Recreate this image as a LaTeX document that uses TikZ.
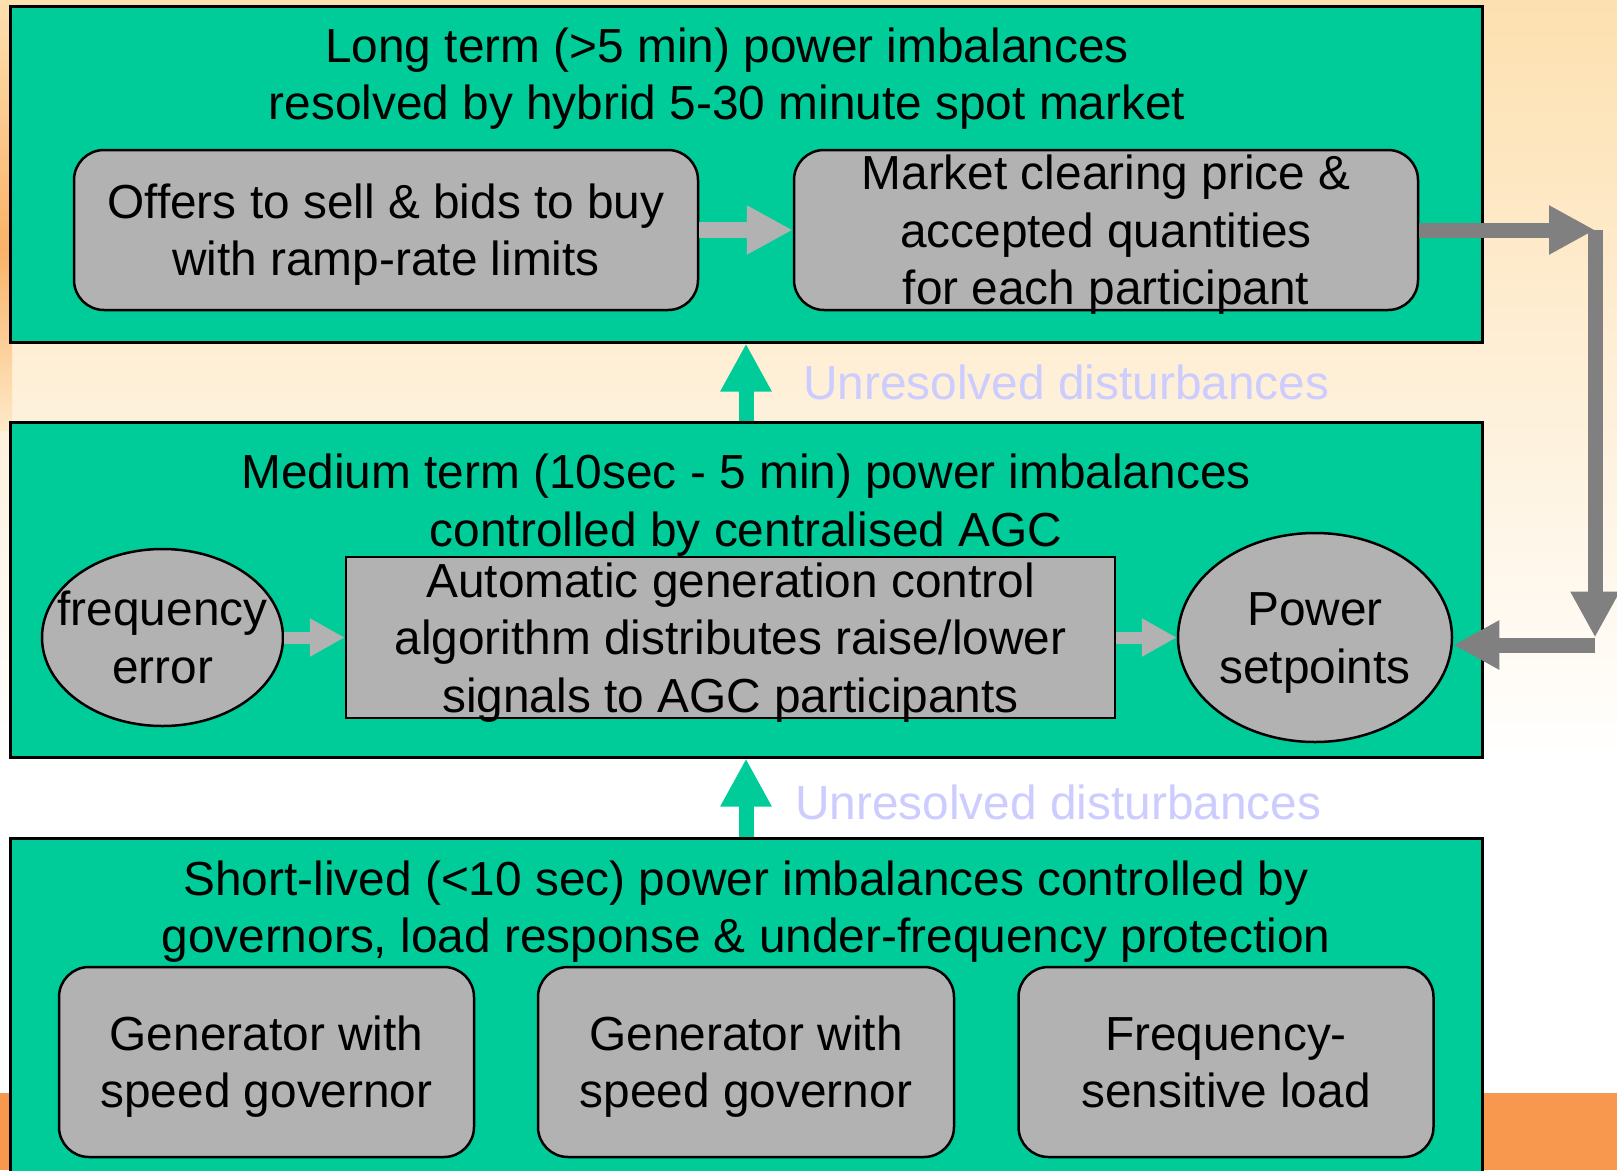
\documentclass[tikz,border=0pt]{standalone}
\usepackage{fontspec}
\setmainfont{Liberation Sans}
\usetikzlibrary{arrows.meta,shapes.geometric}

\definecolor{layergreen}{RGB}{0,204,153}
\definecolor{boxgrey}{RGB}{178,178,178}
\definecolor{fbgrey}{RGB}{128,128,128}
\definecolor{lavender}{RGB}{204,204,255}
\definecolor{peach}{RGB}{253,224,176}
\definecolor{edgeorange}{RGB}{250,178,104}
\definecolor{bandorange}{RGB}{247,152,78}

\newcommand{\bigfont}{\fontsize{47.8pt}{57.5pt}\selectfont}
\newcommand{\lstrut}{\rule[-11.75pt]{0pt}{57.5pt}}

\begin{document}
\begin{tikzpicture}[x=1pt,y=-1pt,
    layer/.style={draw=black,line width=3pt,fill=layergreen,
                  minimum width=1472pt,inner sep=0pt},
    pill/.style={draw=black,line width=2.5pt,fill=boxgrey,
                 rounded corners=30pt,inner sep=0pt},
    plainbox/.style={draw=black,line width=2.5pt,fill=boxgrey,inner sep=0pt},
    oval/.style={ellipse,draw=black,line width=2.5pt,fill=boxgrey,inner sep=0pt},
    txt/.style={font=\bigfont,align=center,inner sep=0pt},
    note/.style={font=\bigfont,text=lavender,anchor=west,inner sep=0pt},
    bigarrow/.style={line width=16pt,boxgrey,-{Triangle[length=46pt,width=46pt]}},
    smallarrow/.style={line width=12pt,boxgrey,-{Triangle[length=35pt,width=36pt]}},
    rise/.style={line width=15pt,layergreen,-{Triangle[length=48pt,width=48pt]}},
    feedback/.style={line width=15pt,fbgrey,-{Triangle[length=46pt,width=46pt]}}]
  \useasboundingbox (0,0) rectangle (1617,1170);

  % background
  \fill[white] (0,0) rectangle (1617,1170);
  \shade[top color=peach,bottom color=white] (0,0) rectangle (1617,760);
  \shade[top color=peach,bottom color=edgeorange] (0,0) rectangle (12,250);
  \shade[top color=edgeorange,bottom color=peach!70!white] (0,250) rectangle (12,430);
  \fill[bandorange] (0,1093) rectangle (1617,1170);

  % the three layers
  \node[layer,minimum height=336pt] (top) at (746,174) {};
  \node[layer,minimum height=335pt] (mid) at (746,589.5) {};
  \node[layer,minimum height=360pt] (bot) at (746,1018) {};

  \node[txt] (toptitle) at (727,74)
    {\lstrut Long term (>5 min) power imbalances\\
     \lstrut resolved by hybrid 5-30 minute spot market};
  \node[txt] (midtitle) at (746,500.5)
    {\lstrut Medium term (10sec - 5 min) power imbalances\\
     \lstrut controlled by centralised AGC};
  \node[txt] (bottitle) at (746,907)
    {\lstrut Short-lived (<10 sec) power imbalances controlled by\\
     \lstrut governors, load response \& under-frequency protection};

  % long term
  \node[pill,minimum width=624pt,minimum height=160pt] (offers) at (386,230) {};
  \node[txt] at (offers) {\lstrut Offers to sell \& bids to buy\\
                          \lstrut with ramp-rate limits};
  \node[pill,minimum width=624pt,minimum height=160pt] (market) at (1106,230) {};
  \node[txt] at (market) {\lstrut Market clearing price \&\\
                          \lstrut accepted quantities\\
                          \lstrut for each participant};

  % medium term
  \node[oval,minimum width=241pt,minimum height=177pt] (freq) at (162.5,637.5) {};
  \node[txt] at (freq) {\lstrut frequency\\ \lstrut error};
  \node[plainbox,minimum width=769pt,minimum height=161pt] (agc) at (730.5,637.5) {};
  \node[txt] at (agc) {\lstrut Automatic generation control\\
                       \lstrut algorithm distributes raise/lower\\
                       \lstrut signals to AGC participants};
  \node[oval,minimum width=274pt,minimum height=209pt] (power) at (1315,637.5) {};
  \node[txt] at (power) {\lstrut Power\\ \lstrut setpoints};

  % short lived
  \node[pill,minimum width=415pt,minimum height=190pt] (gen1) at (266.5,1062) {};
  \node[txt] at (gen1) {\lstrut Generator with\\ \lstrut speed governor};
  \node[pill,minimum width=416pt,minimum height=190pt] (gen2) at (746,1062) {};
  \node[txt] at (gen2) {\lstrut Generator with\\ \lstrut speed governor};
  \node[pill,minimum width=415pt,minimum height=190pt] (load) at (1226,1062) {};
  \node[txt] at (load) {\lstrut Frequency-\\ \lstrut sensitive load};

  % arrows
  \draw[bigarrow] (offers) -- (market);
  \draw[smallarrow] (freq) -- (agc);
  \draw[smallarrow] (agc) -- (power);

  \draw[rise] (mid) -- (top);
  \node[note] (note1) at (803,382) {\lstrut Unresolved disturbances};
  \draw[rise] (bot) -- (mid);
  \node[note] (note2) at (795,802) {\lstrut Unresolved disturbances};

  \coordinate (fbtop) at (1595,230);
  \coordinate (fbbot) at (1595,645);
  \draw[feedback] (market) -- (fbtop);
  \draw[feedback,shorten >=7.5pt] (fbtop) -- (fbbot);
  \draw[feedback] (fbbot) -- (fbbot -| power.east);
\end{tikzpicture}
\end{document}
